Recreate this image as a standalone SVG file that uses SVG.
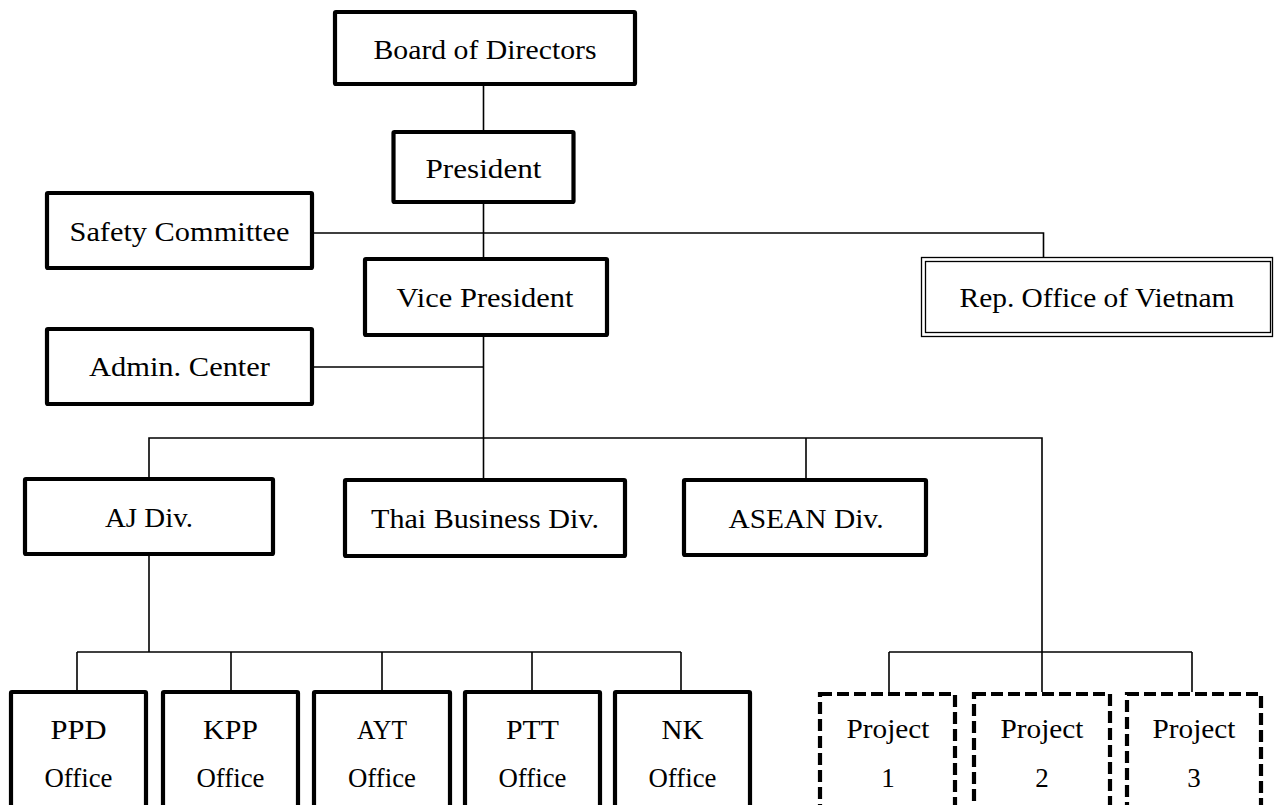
<svg xmlns="http://www.w3.org/2000/svg" width="1274" height="805" viewBox="0 0 1274 805">
<style>
.box{fill:#fff;stroke:#000;stroke-width:4.2;}
.dash{fill:#fff;stroke:#000;stroke-width:4.2;stroke-dasharray:12 5;}
.dbl{fill:none;stroke:#000;stroke-width:1.3;}
.ln{fill:none;stroke:#000;stroke-width:1.6;}
text{font-family:"Liberation Serif","Times New Roman",serif;font-size:27px;fill:#000;text-anchor:middle;}
</style>
<rect width="1274" height="805" fill="#fff"/>
<g id="connectors">
<line class="ln" x1="483.5" y1="86" x2="483.5" y2="130"/>
<line class="ln" x1="483.5" y1="204" x2="483.5" y2="257"/>
<line class="ln" x1="483.5" y1="337" x2="483.5" y2="478"/>
<polyline class="ln" points="314,233 1043.5,233 1043.5,257"/>
<line class="ln" x1="314" y1="367" x2="483.5" y2="367"/>
<polyline class="ln" points="149,477 149,438 1042,438 1042,652"/>
<line class="ln" x1="806" y1="438" x2="806" y2="478"/>
<line class="ln" x1="149" y1="556" x2="149" y2="652"/>
<line class="ln" x1="77" y1="652" x2="681" y2="652"/>
<line class="ln" x1="77" y1="652" x2="77" y2="690"/>
<line class="ln" x1="231" y1="652" x2="231" y2="690"/>
<line class="ln" x1="382" y1="652" x2="382" y2="690"/>
<line class="ln" x1="532" y1="652" x2="532" y2="690"/>
<line class="ln" x1="681" y1="652" x2="681" y2="690"/>
<line class="ln" x1="889" y1="652" x2="1192" y2="652"/>
<line class="ln" x1="889" y1="652" x2="889" y2="692"/>
<line class="ln" x1="1042" y1="652" x2="1042" y2="692"/>
<line class="ln" x1="1192" y1="652" x2="1192" y2="692"/>
</g>
<g id="board"><rect class="box" x="335" y="12" width="300" height="72" rx="1"/><text x="485" y="59" textLength="223" lengthAdjust="spacingAndGlyphs">Board of Directors</text></g>
<g id="president"><rect class="box" x="393.5" y="132" width="180" height="70" rx="1"/><text x="483.5" y="178" textLength="116" lengthAdjust="spacingAndGlyphs">President</text></g>
<g id="safety"><rect class="box" x="47" y="193" width="265" height="75" rx="1"/><text x="179.5" y="241" textLength="220" lengthAdjust="spacingAndGlyphs">Safety Committee</text></g>
<g id="vice-president"><rect class="box" x="365" y="259" width="242" height="76" rx="1"/><text x="485" y="307" textLength="177" lengthAdjust="spacingAndGlyphs">Vice President</text></g>
<g id="rep-office"><rect class="dbl" x="921.5" y="257.5" width="351" height="79"/><rect class="dbl" x="925.5" y="261.5" width="345" height="71"/><text x="1097" y="307" textLength="275" lengthAdjust="spacingAndGlyphs">Rep. Office of Vietnam</text></g>
<g id="admin"><rect class="box" x="47" y="329" width="265" height="75" rx="1"/><text x="179.5" y="376" textLength="181" lengthAdjust="spacingAndGlyphs">Admin. Center</text></g>
<g id="aj-div"><rect class="box" x="25" y="479" width="248" height="75" rx="1"/><text x="149" y="527" textLength="88" lengthAdjust="spacingAndGlyphs">AJ Div.</text></g>
<g id="thai-div"><rect class="box" x="345" y="480" width="280" height="76" rx="1"/><text x="485" y="528" textLength="228" lengthAdjust="spacingAndGlyphs">Thai Business Div.</text></g>
<g id="asean-div"><rect class="box" x="684" y="480" width="242" height="75" rx="1"/><text x="806" y="528" textLength="155" lengthAdjust="spacingAndGlyphs">ASEAN Div.</text></g>
<g id="ppd"><rect class="box" x="11" y="692" width="135" height="130" rx="1"/><text x="78.5" y="739" textLength="56" lengthAdjust="spacingAndGlyphs">PPD</text><text x="78.5" y="787" textLength="68" lengthAdjust="spacingAndGlyphs">Office</text></g>
<g id="kpp"><rect class="box" x="163" y="692" width="135" height="130" rx="1"/><text x="230.5" y="739" textLength="55" lengthAdjust="spacingAndGlyphs">KPP</text><text x="230.5" y="787" textLength="68" lengthAdjust="spacingAndGlyphs">Office</text></g>
<g id="ayt"><rect class="box" x="314" y="692" width="136" height="130" rx="1"/><text x="382" y="739" textLength="50" lengthAdjust="spacingAndGlyphs">AYT</text><text x="382" y="787" textLength="68" lengthAdjust="spacingAndGlyphs">Office</text></g>
<g id="ptt"><rect class="box" x="465" y="692" width="135" height="130" rx="1"/><text x="532.5" y="739" textLength="53" lengthAdjust="spacingAndGlyphs">PTT</text><text x="532.5" y="787" textLength="68" lengthAdjust="spacingAndGlyphs">Office</text></g>
<g id="nk"><rect class="box" x="615" y="692" width="135" height="130" rx="1"/><text x="682.5" y="739" textLength="42" lengthAdjust="spacingAndGlyphs">NK</text><text x="682.5" y="787" textLength="68" lengthAdjust="spacingAndGlyphs">Office</text></g>
<g id="project1"><rect class="dash" x="820" y="694" width="135" height="130"/><text x="888" y="738" textLength="83" lengthAdjust="spacingAndGlyphs">Project</text><text x="888" y="787">1</text></g>
<g id="project2"><rect class="dash" x="974" y="694" width="136" height="130"/><text x="1042" y="738" textLength="83" lengthAdjust="spacingAndGlyphs">Project</text><text x="1042" y="787">2</text></g>
<g id="project3"><rect class="dash" x="1127" y="694" width="134" height="130"/><text x="1194" y="738" textLength="83" lengthAdjust="spacingAndGlyphs">Project</text><text x="1194" y="787">3</text></g>
</svg>
